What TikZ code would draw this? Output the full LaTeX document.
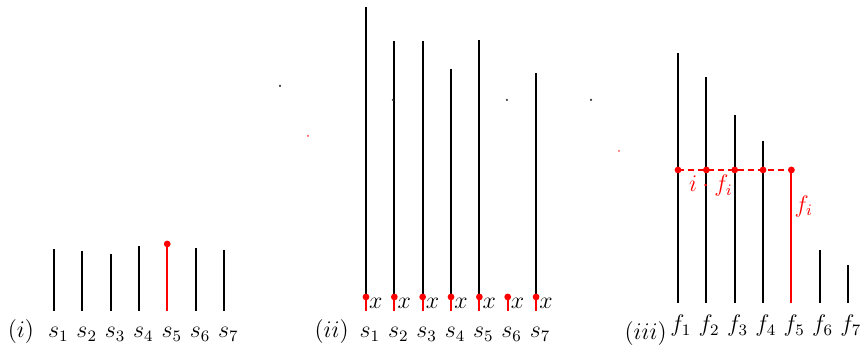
\documentclass[tikz,border=0pt,12pt]{standalone}
\usepackage{tikz}
\usetikzlibrary{positioning}

\begin{document}
\begin{tikzpicture}[
  bar/.style={draw=black, line width=1pt},
  redbar/.style={draw=red, line width=1pt},
  guide/.style={draw=red, line width=1pt, dash pattern=on 3pt off 2pt},
  pin/.style={circle, fill=red, inner sep=0pt, minimum size=3.4pt},
  speck/.style={circle, fill=black!80, inner sep=0pt, minimum size=1.2pt},
  redspeck/.style={circle, fill=red!60, inner sep=0pt, minimum size=1.2pt},
  lbl/.style={anchor=base, inner sep=0pt},
  xlbl/.style={anchor=base west, inner sep=0pt},
  redlbl/.style={text=red, inner sep=0pt},
]
\useasboundingbox (0,0) rectangle (15.17,6.12);

%% (i) sizes s_1..s_7
\node[lbl] (ti) at (0.37,0.168) {$(i)$};
\foreach \k/\h in {1/1.729, 2/1.693, 3/1.641, 4/1.782, 5/1.817, 6/1.746, 7/1.711} {
  \coordinate (ab\k) at (0.45+0.5*\k, 0.635);
  \coordinate (at\k) at (0.45+0.5*\k, \h);
  \node[lbl] (as\k) at (0.53+0.5*\k, 0.168) {$s_{\k}$};
}
\foreach \k in {1,2,3,4,6,7} {
  \draw[bar] (ab\k) -- (at\k);
}
\draw[redbar] (ab5) -- (at5);
\node[pin] (ap5) at (at5) {};

%% (ii) sizes with x
\node[lbl] (tii) at (5.85,0.168) {$(ii)$};
\foreach \k/\h in {1/5.998, 2/5.398, 3/5.398, 4/4.904, 5/5.415, 6/0.882, 7/4.833} {
  \coordinate (bb\k) at (5.956+0.5*\k, 0.635);
  \coordinate (bc\k) at (5.956+0.5*\k, 0.882);
  \coordinate (bt\k) at (5.956+0.5*\k, \h);
  \node[lbl] (bs\k) at (6.026+0.5*\k, 0.168) {$s_{\k}$};
  \node[xlbl] (bx\k) at (6.006+0.5*\k, 0.67) {$x$};
}
\foreach \k in {1,2,3,4,5,7} {
  \draw[bar] (bc\k) -- (bt\k);
}
\foreach \k in {1,...,7} {
  \draw[redbar] (bb\k) -- (bc\k);
  \node[pin] (bp\k) at (bc\k) {};
}

%% (iii) frequencies f_1..f_7
\node[lbl] (tiii) at (11.39,0.123) {$(iii)$};
\foreach \k/\h in {1/5.186, 2/4.763, 3/4.092, 4/3.634, 5/3.122, 6/1.711, 7/1.446} {
  \coordinate (cb\k) at (11.46+0.5*\k, 0.776);
  \coordinate (ct\k) at (11.46+0.5*\k, \h);
  \coordinate (cc\k) at (11.46+0.5*\k, 3.122);
  \node[lbl] (cf\k) at (11.51+0.5*\k, 0.265) {$f_{\k}$};
}
\foreach \k in {1,2,3,4,6,7} {
  \draw[bar] (cb\k) -- (ct\k);
}
\draw[redbar] (cb5) -- (ct5);
\draw[guide] (cc1) -- (cc5);
\foreach \k in {1,...,5} {
  \node[pin] (cp\k) at (cc\k) {};
}
\node[redlbl, anchor=base] (prod) at (12.54,2.74) {$i\cdot f_i$};
\node[redlbl, anchor=base west] (fi) at (14.01,2.38) {$f_i$};

%% stray specks
\node[speck] (d1) at (4.939,4.604) {};
\node[redspeck] (d2) at (5.433,3.722) {};
\node[speck] (d3) at (6.932,4.357) {};
\node[speck] (d4) at (8.943,4.357) {};
\node[speck] (d5) at (10.425,4.357) {};
\node[redspeck] (d6) at (10.919,3.457) {};
\end{tikzpicture}
\end{document}
